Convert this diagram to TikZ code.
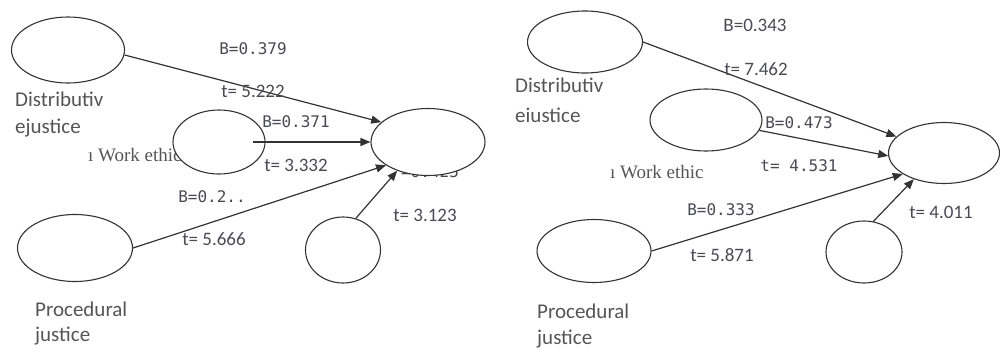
\documentclass[tikz,border=0pt]{standalone}
\usepackage{fontspec}
\setmainfont{Liberation Serif}
\newfontfamily\lblsans{Carlito}
\newfontfamily\lblmono{DejaVu Sans Mono}
\usetikzlibrary{shapes.geometric,arrows.meta}
\definecolor{txtgray}{HTML}{555555}
\definecolor{lblgray}{HTML}{4A4A55}
\definecolor{linegray}{HTML}{333333}
\tikzset{
  oval/.style={ellipse,draw=linegray,line width=1.1pt,fill=white,inner sep=0pt},
  conn/.style={draw=linegray,line width=1.2pt,-{Triangle[length=10pt,width=8pt]}},
  varname/.style={font=\lblsans\fontsize{21}{24}\selectfont,text=txtgray,anchor=base west,inner sep=0pt},
  wvarname/.style={font=\fontsize{19}{22}\selectfont,text=txtgray,anchor=base west,inner sep=0pt},
  lsans/.style={font=\lblsans\fontsize{19}{22}\selectfont,text=lblgray,inner sep=0pt},
  lmono/.style={font=\lblmono\fontsize{16}{20}\selectfont,text=lblgray,inner sep=0pt},
}
\begin{document}
\begin{tikzpicture}[x=1pt,y=-1pt]
\useasboundingbox (0,0) rectangle (1000,351);
% ---------- left panel ----------
\node[wvarname] (we1t) at (88,161) {ı Work ethic};
\node[lmono] (l1g) at (430,172) {=0.425};
\node[oval,minimum width=113pt,minimum height=66pt] (dj1) at (68,50) {};
\node[oval,minimum width=92pt,minimum height=64pt] (we1) at (219,142) {};
\node[oval,minimum width=114pt,minimum height=67pt] (t1) at (428,142) {};
\node[oval,minimum width=75pt,minimum height=66pt] (s1) at (343,250) {};
\node[oval,minimum width=115pt,minimum height=67pt] (pj1) at (75,248) {};
\node[varname] (dj1a) at (15,106) {Distributiv};
\node[varname] (dj1b) at (15,133) {ejustice};
\node[varname] (pj1a) at (35,316) {Procedural};
\node[varname] (pj1b) at (35,341) {justice};
\draw[conn] (dj1.-5) -- (t1.157);
\draw[conn] ([xshift=34pt]we1.center) -- (t1.west);
\draw[conn] (pj1.east) -- (t1.209);
\draw[conn] (s1.68) -- (t1.223);
\node[lmono] (l1a) at (253,49) {B=0.379};
\node[lsans] (l1b) at (253,91) {t= 5.222};
\node[lmono] (l1c) at (296,122) {B=0.371};
\node[lsans] (l1d) at (296,165) {t= 3.332};
\node[lmono] (l1e) at (212,197) {B=0.2..};
\node[lsans] (l1f) at (214,239) {t= 5.666};
\node[lsans] (l1h) at (425,215) {t= 3.123};
% ---------- right panel ----------
\node[wvarname] (we2t) at (610,178) {ı Work ethic};
\node[oval,minimum width=115pt,minimum height=62pt] (dj2) at (585,42) {};
\node[oval,minimum width=112pt,minimum height=62pt] (we2) at (706,120) {};
\node[oval,minimum width=111pt,minimum height=61pt] (t2) at (944,153) {};
\node[oval,minimum width=76pt,minimum height=62pt] (s2) at (864,252) {};
\node[oval,minimum width=114pt,minimum height=63pt] (pj2) at (594,251) {};
\node[varname] (dj2a) at (515,92) {Distributiv};
\node[varname] (dj2b) at (515,122) {eiustice};
\node[varname] (pj2a) at (537,318) {Procedural};
\node[varname] (pj2b) at (537,344) {justice};
\draw[conn] (dj2.east) -- (t2.161);
\draw[conn] (we2.-11) -- (t2.183);
\draw[conn] (pj2.east) -- (t2.207);
\draw[conn] (s2.73) -- (t2.221);
\node[lsans] (l2a) at (755,25) {B=0.343};
\node[lsans] (l2b) at (756,69) {t= 7.462};
\node[lmono] (l2c) at (799,123) {B=0.473};
\node[lmono] (l2d) at (799,166) {t= 4.531};
\node[lmono] (l2e) at (721,210) {B=0.333};
\node[lsans] (l2f) at (722,255) {t= 5.871};
\node[lsans] (l2g) at (941,212) {t= 4.011};
\end{tikzpicture}
\end{document}
